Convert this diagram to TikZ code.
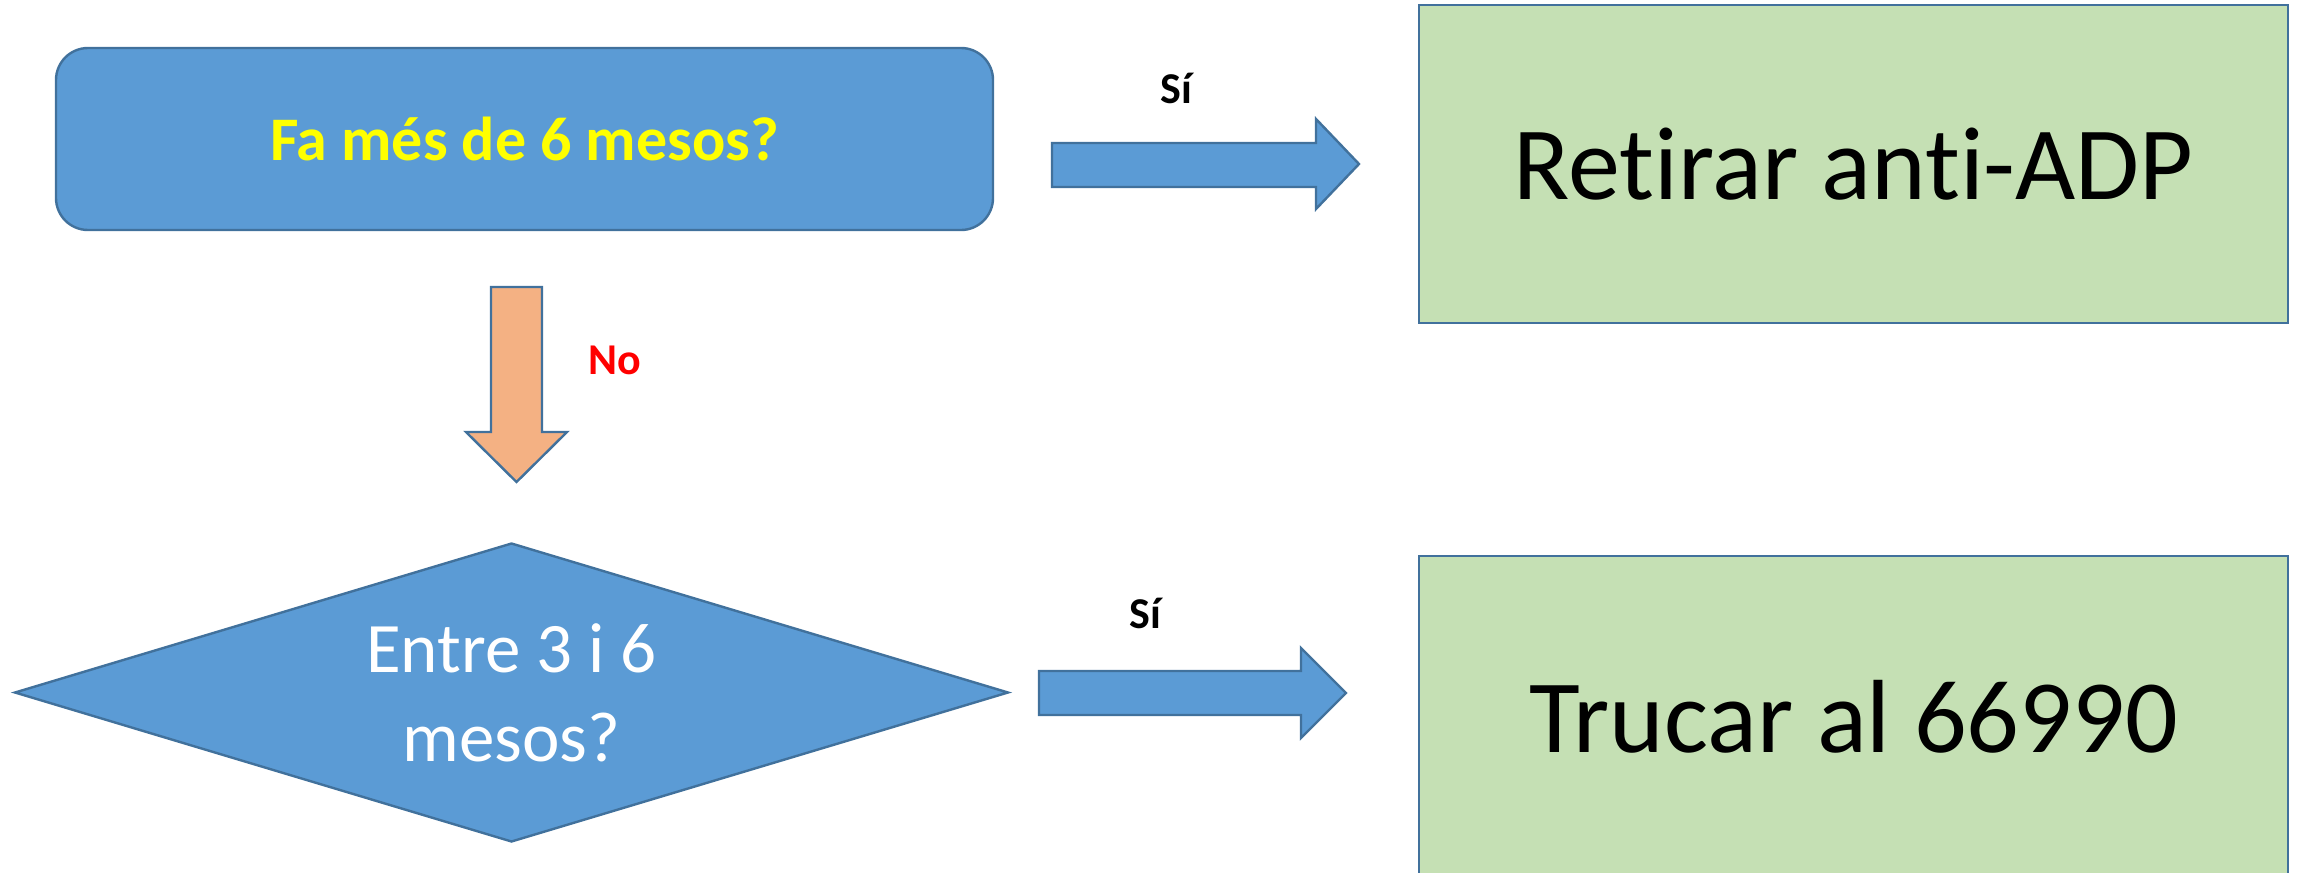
\documentclass[tikz,border=0pt]{standalone}
\usepackage{fontspec}
\setmainfont{Carlito}[Ligatures=NoCommon]
\usetikzlibrary{shapes.geometric}
\definecolor{boxblue}{HTML}{5B9BD5}
\definecolor{edgeblue}{HTML}{41719C}
\definecolor{boxgreen}{HTML}{C5E0B4}
\definecolor{arrorange}{HTML}{F4B183}
\definecolor{txtyellow}{HTML}{FFFF00}
\definecolor{txtred}{HTML}{FF0000}
\tikzset{
  shapeedge/.style={draw=edgeblue, line width=1.2pt},
  qbox/.style={shapeedge, fill=boxblue, rounded corners=16pt, inner sep=0pt,
    minimum width=468.5pt, minimum height=91pt,
    font=\fontsize{31}{37}\selectfont\bfseries, text=txtyellow},
  ansbox/.style={shapeedge, fill=boxgreen, inner sep=0pt,
    minimum width=434.5pt, font=\fontsize{52}{62}\selectfont, text=black},
  qdiam/.style={shapeedge, fill=boxblue, diamond, shape aspect=3.32, inner sep=0pt,
    minimum width=497pt, minimum height=149.5pt, align=center,
    font=\fontsize{35.5}{44.5}\selectfont, text=white},
  yeslbl/.style={font=\fontsize{22}{26}\selectfont\bfseries, text=black, inner sep=0pt},
  nolbl/.style={font=\fontsize{22}{26}\selectfont\bfseries, text=txtred, inner sep=0pt},
  bluearrow/.style={shapeedge, fill=boxblue},
  orangearrow/.style={shapeedge, fill=arrorange}
}
\begin{document}
\begin{tikzpicture}[x=0.5pt, y=-0.5pt]
\useasboundingbox (0,0) rectangle (2300,872);
\clip (0,0) rectangle (2300,872);
% question 1
\node[qbox] (q1) at (524.5,139) {Fa més de 6 mesos?};
% answer 1
\node[ansbox, minimum height=159pt] (r1) at (1853.5,164) {Retirar anti-ADP};
% question 2
\node[qdiam] (q2) at (511.5,692.5) {Entre 3 i 6\\mesos?};
% answer 2 (runs past the lower edge)
\node[ansbox, minimum height=160.5pt] (r2) at (1853.5,716.5) {Trucar al 66990};
% block arrows
\draw[bluearrow] (1052,143) -- (1316,143) -- (1316,119) -- (1359,164) -- (1316,209) -- (1316,187) -- (1052,187) -- cycle;
\draw[bluearrow] (1039,671) -- (1301,671) -- (1301,648) -- (1346,693) -- (1301,738) -- (1301,715) -- (1039,715) -- cycle;
\draw[orangearrow] (491,287) -- (542,287) -- (542,432) -- (567,432) -- (516.5,482) -- (466,432) -- (491,432) -- cycle;
% labels
\node[yeslbl] (si1) at (1176,88) {Sí};
\node[yeslbl] (si2) at (1145,613) {Sí};
\node[nolbl] (no) at (615,360) {No};
\end{tikzpicture}
\end{document}
